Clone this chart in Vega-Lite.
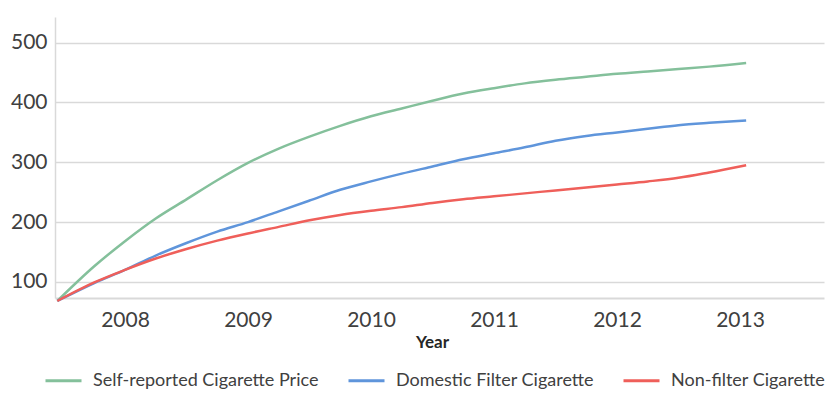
{
  "$schema": "https://vega.github.io/schema/vega-lite/v6.json",
  "width": 769,
  "height": 281,
  "autosize": {"type": "none"},
  "padding": {"left": 55, "top": 17, "right": 8, "bottom": 96},
  "background": "white",
  "config": {
    "font": "Lato",
    "view": {"stroke": null},
    "axis": {"labelColor": "#404040", "labelFontSize": 21, "ticks": false}
  },
  "data": {
    "values": [
      {"year": 2007.45, "series": "Self-reported Cigarette Price", "price": 68},
      {"year": 2007.75, "series": "Self-reported Cigarette Price", "price": 126},
      {"year": 2008.0, "series": "Self-reported Cigarette Price", "price": 168},
      {"year": 2008.25, "series": "Self-reported Cigarette Price", "price": 206},
      {"year": 2008.5, "series": "Self-reported Cigarette Price", "price": 238},
      {"year": 2008.75, "series": "Self-reported Cigarette Price", "price": 270},
      {"year": 2009.0, "series": "Self-reported Cigarette Price", "price": 299},
      {"year": 2009.25, "series": "Self-reported Cigarette Price", "price": 323},
      {"year": 2009.5, "series": "Self-reported Cigarette Price", "price": 343},
      {"year": 2009.75, "series": "Self-reported Cigarette Price", "price": 361},
      {"year": 2010.0, "series": "Self-reported Cigarette Price", "price": 377},
      {"year": 2010.25, "series": "Self-reported Cigarette Price", "price": 390},
      {"year": 2010.5, "series": "Self-reported Cigarette Price", "price": 403},
      {"year": 2010.75, "series": "Self-reported Cigarette Price", "price": 415},
      {"year": 2011.0, "series": "Self-reported Cigarette Price", "price": 424},
      {"year": 2011.25, "series": "Self-reported Cigarette Price", "price": 432},
      {"year": 2011.5, "series": "Self-reported Cigarette Price", "price": 438},
      {"year": 2011.75, "series": "Self-reported Cigarette Price", "price": 443},
      {"year": 2012.0, "series": "Self-reported Cigarette Price", "price": 448},
      {"year": 2012.25, "series": "Self-reported Cigarette Price", "price": 452},
      {"year": 2012.5, "series": "Self-reported Cigarette Price", "price": 456},
      {"year": 2012.75, "series": "Self-reported Cigarette Price", "price": 460},
      {"year": 2013.05, "series": "Self-reported Cigarette Price", "price": 466},
      {"year": 2007.45, "series": "Domestic Filter Cigarette", "price": 68},
      {"year": 2007.75, "series": "Domestic Filter Cigarette", "price": 98},
      {"year": 2008.0, "series": "Domestic Filter Cigarette", "price": 120},
      {"year": 2008.25, "series": "Domestic Filter Cigarette", "price": 144},
      {"year": 2008.5, "series": "Domestic Filter Cigarette", "price": 165},
      {"year": 2008.75, "series": "Domestic Filter Cigarette", "price": 184},
      {"year": 2009.0, "series": "Domestic Filter Cigarette", "price": 200},
      {"year": 2009.25, "series": "Domestic Filter Cigarette", "price": 218},
      {"year": 2009.5, "series": "Domestic Filter Cigarette", "price": 236},
      {"year": 2009.75, "series": "Domestic Filter Cigarette", "price": 254},
      {"year": 2010.0, "series": "Domestic Filter Cigarette", "price": 268},
      {"year": 2010.25, "series": "Domestic Filter Cigarette", "price": 281},
      {"year": 2010.5, "series": "Domestic Filter Cigarette", "price": 293},
      {"year": 2010.75, "series": "Domestic Filter Cigarette", "price": 305},
      {"year": 2011.0, "series": "Domestic Filter Cigarette", "price": 315},
      {"year": 2011.25, "series": "Domestic Filter Cigarette", "price": 325},
      {"year": 2011.5, "series": "Domestic Filter Cigarette", "price": 336},
      {"year": 2011.75, "series": "Domestic Filter Cigarette", "price": 344},
      {"year": 2012.0, "series": "Domestic Filter Cigarette", "price": 350},
      {"year": 2012.25, "series": "Domestic Filter Cigarette", "price": 356},
      {"year": 2012.5, "series": "Domestic Filter Cigarette", "price": 362},
      {"year": 2012.75, "series": "Domestic Filter Cigarette", "price": 366},
      {"year": 2013.05, "series": "Domestic Filter Cigarette", "price": 370},
      {"year": 2007.45, "series": "Non-filter Cigarette", "price": 68},
      {"year": 2007.75, "series": "Non-filter Cigarette", "price": 99},
      {"year": 2008.0, "series": "Non-filter Cigarette", "price": 120},
      {"year": 2008.25, "series": "Non-filter Cigarette", "price": 139},
      {"year": 2008.5, "series": "Non-filter Cigarette", "price": 155},
      {"year": 2008.75, "series": "Non-filter Cigarette", "price": 169},
      {"year": 2009.0, "series": "Non-filter Cigarette", "price": 181},
      {"year": 2009.25, "series": "Non-filter Cigarette", "price": 192},
      {"year": 2009.5, "series": "Non-filter Cigarette", "price": 203},
      {"year": 2009.75, "series": "Non-filter Cigarette", "price": 212},
      {"year": 2010.0, "series": "Non-filter Cigarette", "price": 219},
      {"year": 2010.25, "series": "Non-filter Cigarette", "price": 225},
      {"year": 2010.5, "series": "Non-filter Cigarette", "price": 232},
      {"year": 2010.75, "series": "Non-filter Cigarette", "price": 238},
      {"year": 2011.0, "series": "Non-filter Cigarette", "price": 243},
      {"year": 2011.25, "series": "Non-filter Cigarette", "price": 248},
      {"year": 2011.5, "series": "Non-filter Cigarette", "price": 253},
      {"year": 2011.75, "series": "Non-filter Cigarette", "price": 258},
      {"year": 2012.0, "series": "Non-filter Cigarette", "price": 263},
      {"year": 2012.25, "series": "Non-filter Cigarette", "price": 268},
      {"year": 2012.5, "series": "Non-filter Cigarette", "price": 274},
      {"year": 2012.75, "series": "Non-filter Cigarette", "price": 283},
      {"year": 2013.05, "series": "Non-filter Cigarette", "price": 295}
    ]
  },
  "mark": {"type": "line", "strokeWidth": 2.5, "interpolate": "monotone", "clip": false},
  "encoding": {
    "x": {
      "field": "year",
      "type": "quantitative",
      "scale": {"domain": [2007.431, 2013.683], "nice": false, "zero": false},
      "axis": {
        "values": [2008, 2009, 2010, 2011, 2012, 2013],
        "format": "d",
        "grid": false,
        "domainColor": "#d9d9d9",
        "domainWidth": 2,
        "labelPadding": 11,
        "title": "Year",
        "titleFontSize": 17,
        "titleFontWeight": "bold",
        "titleColor": "#262626",
        "titleX": 377,
        "titleY": 49,
        "titleBaseline": "alphabetic"
      }
    },
    "y": {
      "field": "price",
      "type": "quantitative",
      "scale": {"domain": [73, 543], "nice": false, "zero": false},
      "axis": {
        "values": [100, 200, 300, 400, 500],
        "title": null,
        "grid": true,
        "gridColor": "#d9d9d9",
        "gridWidth": 1.5,
        "domainColor": "#d9d9d9",
        "domainWidth": 1.5,
        "labelPadding": 8
      }
    },
    "color": {
      "field": "series",
      "type": "nominal",
      "sort": null,
      "scale": {
        "domain": ["Self-reported Cigarette Price", "Domestic Filter Cigarette", "Non-filter Cigarette"],
        "range": ["#84c09b", "#5f95db", "#ef5f5a"]
      },
      "legend": {
        "title": null,
        "orient": "none",
        "direction": "horizontal",
        "legendX": -11,
        "legendY": 344,
        "padding": 0,
        "symbolType": "stroke",
        "symbolSize": 1296,
        "symbolStrokeWidth": 3,
        "labelFontSize": 18,
        "labelColor": "#404040",
        "labelOffset": 10,
        "columnPadding": 23,
        "labelLimit": 400
      }
    }
  }
}
